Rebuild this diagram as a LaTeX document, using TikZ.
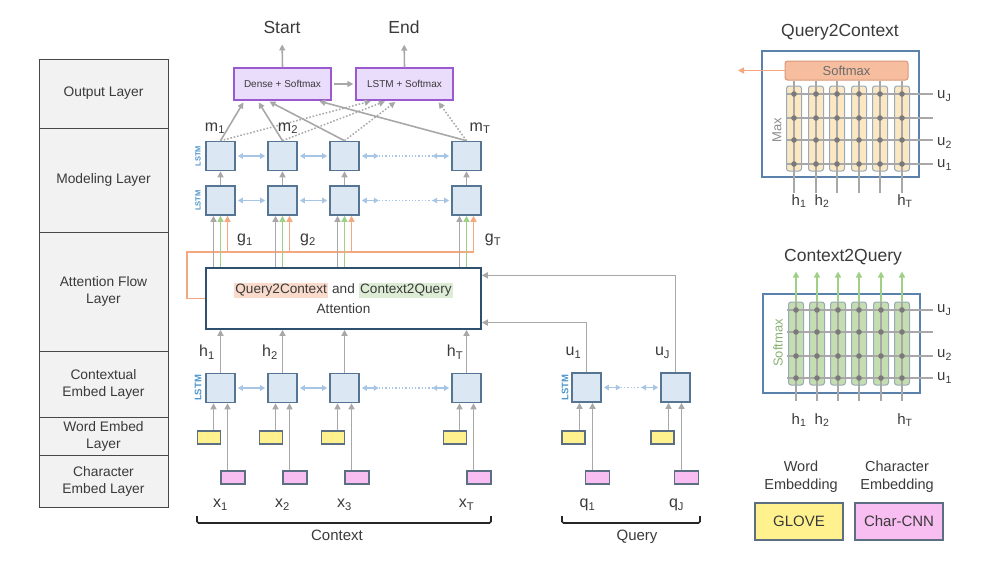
\documentclass[tikz,border=0pt]{standalone}
\usepackage{fontspec}
\setmainfont{Liberation Sans}
\usetikzlibrary{arrows.meta,calc}
\definecolor{txt}{HTML}{3A3A3A}
\definecolor{lstmfill}{HTML}{DCE7F4}
\definecolor{lstmdraw}{HTML}{557593}
\definecolor{blu}{HTML}{A7C6E5}
\definecolor{gry}{HTML}{A8A8A8}
\definecolor{grn}{HTML}{A0CF86}
\definecolor{org}{HTML}{F5A77F}
\definecolor{ylw}{HTML}{FFF28E}
\definecolor{pnk}{HTML}{F8BDF1}
\definecolor{purfill}{HTML}{EADCFB}
\definecolor{purdraw}{HTML}{9B59CF}
\definecolor{layerfill}{HTML}{F2F2F2}
\definecolor{lstmtxt}{HTML}{4C94CC}
\definecolor{q2cbg}{HTML}{FADBCB}
\definecolor{c2qbg}{HTML}{DDEDD5}
\definecolor{panel}{HTML}{5A82AC}
\definecolor{attdraw}{HTML}{2F4F6E}
\definecolor{smfill}{HTML}{F6BE9F}
\definecolor{smdraw}{HTML}{D8967A}
\definecolor{colY}{HTML}{FBE8C2}
\definecolor{colG}{HTML}{C4DDB1}
\definecolor{coldraw}{HTML}{98A9B8}
\definecolor{dotc}{HTML}{7A7A7A}
\definecolor{embdraw}{HTML}{5C6F82}
\begin{document}
\begin{tikzpicture}[x=1pt,y=-1pt,
  every node/.style={text=txt, inner sep=0pt},
  font=\fontsize{13}{16.5}\selectfont,
  layerbox/.style={draw=black!72, fill=layerfill, line width=0.9pt, minimum width=129, align=center, font=\fontsize{13.8}{17}\selectfont},
  lstm/.style={draw=lstmdraw, fill=lstmfill, line width=1.6pt, minimum width=29, minimum height=29},
  wemb/.style={draw=embdraw, fill=ylw, line width=1.2pt, minimum width=23, minimum height=13},
  cemb/.style={draw=embdraw, fill=pnk, line width=1.2pt, minimum width=24, minimum height=13},
  outbox/.style={draw=purdraw, fill=purfill, line width=1.4pt, minimum width=97, minimum height=32, font=\fontsize{10}{12}\selectfont},
  lbl/.style={font=\fontsize{16}{18}\selectfont},
  ulbl/.style={font=\fontsize{15}{18}\selectfont, anchor=west},
  big/.style={font=\fontsize{17.5}{20}\selectfont},
  lstmlbl/.style={rotate=90, font=\fontsize{9.5}{10}\selectfont\bfseries, text=lstmtxt},
  lstmlbls/.style={rotate=90, font=\fontsize{7.5}{8}\selectfont\bfseries, text=lstmtxt},
  tip/.tip={Triangle[length=6pt,width=6pt]},
  garr/.style={draw=gry, line width=1.6pt, -tip},
  grnarr/.style={draw=grn, line width=1.6pt, -tip},
  oarr/.style={draw=org, line width=1.6pt, -tip},
  barr/.style={draw=blu, line width=1.5pt, {Triangle[length=5pt,width=5.5pt]}-{Triangle[length=5pt,width=5.5pt]}},
  bdot/.style={draw=blu, line width=1.3pt, dash pattern=on 1.3pt off 2pt},
  gdot/.style={draw=gry, line width=1.5pt, dash pattern=on 1.6pt off 1.8pt, -tip},
  gline/.style={draw=gry, line width=1.5pt},
  colbox/.style={draw=coldraw, line width=1pt, rounded corners=2.5pt, minimum width=15},
  bracket/.style={draw=black!85, line width=1.6pt, rounded corners=1.5pt}
]
\useasboundingbox (0,0) rectangle (990,565);

% ---------- layer column ----------
\node[layerbox, minimum height=69] (L1) at (103.5,93.5) {Output Layer};
\node[layerbox, minimum height=104] (L2) at (103.5,180) {Modeling Layer};
\node[layerbox, minimum height=119] (L3) at (103.5,291.5) {Attention Flow\\Layer};
\node[layerbox, minimum height=66] (L4) at (103.5,384) {Contextual\\Embed Layer};
\node[layerbox, minimum height=38] (L5) at (103.5,436) {Word Embed\\Layer};
\node[layerbox, minimum height=52] (L6) at (103.5,481) {Character\\Embed Layer};

% ---------- context column nodes ----------
\foreach \i/\cx/\s in {1/220.5/1,2/282.5/2,3/344.5/3,4/466.5/T} {
  \node[lstm] (mA\i) at (\cx,156) {};
  \node[lstm] (mB\i) at (\cx,200.5) {};
  \node[lstm] (e\i) at (\cx,388) {};
  \node[wemb] (w\i) at (\cx-11.5,437.5) {};
  \node[cemb] (ch\i) at (\cx+12.5,477.5) {};
  \node[lbl] (x\i) at (\cx,505) {x\textsubscript{\s}};
  \draw[garr] (mB\i.north) -- (mA\i.south);
  \path (e\i.south) ++(-7,0) coordinate (ea\i);
  \path (e\i.south) ++(7,0) coordinate (eb\i);
  \draw[garr] (w\i.north -| ea\i) -- (ea\i);
  \draw[garr] (ch\i.north -| eb\i) -- (eb\i);
}
\node[lstmlbls] (lb1) at (198,156) {LSTM};
\node[lstmlbls] (lb2) at (198,200.5) {LSTM};
\node[lstmlbl] (lb3) at (198,388) {LSTM};

% horizontal bidirectional arrows
\foreach \r in {mA,mB,e} {
  \draw[barr, shorten <=2pt, shorten >=2pt] (\r1.east) -- (\r2.west);
  \draw[barr, shorten <=2pt, shorten >=2pt] (\r2.east) -- (\r3.west);
  \draw[barr, shorten <=2pt] (\r3.east) -- ++(19,0) coordinate (\r d1);
  \draw[barr, shorten >=2pt] (\r4.west) ++(-19,0) coordinate (\r d2) -- (\r4.west);
  \draw[bdot] (\r d1) -- (\r d2);
}

% ---------- attention ----------
\node[draw=attdraw, fill=white, line width=1.6pt, minimum width=275, minimum height=61, align=center,
      font=\fontsize{13.6}{20}\selectfont] (att) at (343.5,298.5)
  {{\setlength{\fboxsep}{1.5pt}\colorbox{q2cbg}{Query2Context}} and {\setlength{\fboxsep}{1.5pt}\colorbox{c2qbg}{Context2Query}}\\Attention};

\coordinate (ol) at (187,252);
\coordinate (oe) at (474,252);
\draw[org, line width=1.6pt] (att.west) -| (ol) -- (oe);

\foreach \i in {1,...,4} {
  \path (mB\i.south) ++(-7,0) coordinate (ga\i);
  \path (mB\i.south) ++(7,0) coordinate (oa\i);
  \draw[garr] (att.north -| ga\i) -- (ga\i);
  \draw[grnarr] (att.north -| mB\i.south) -- (mB\i.south);
  \draw[oarr] (ol -| oa\i) -- (oa\i);
  \draw[garr] (e\i.north) -- (att.south -| e\i.north);
}

\node[lbl] (g1) at (245,240) {g\textsubscript{1}};
\node[lbl] (g2) at (308,240) {g\textsubscript{2}};
\node[lbl] (gT) at (493,240) {g\textsubscript{T}};
\node[lbl] (h1) at (207,352) {h\textsubscript{1}};
\node[lbl] (h2) at (270,352) {h\textsubscript{2}};
\node[lbl] (hT) at (455,352) {h\textsubscript{T}};

% ---------- output layer ----------
\node[outbox] (dense) at (282.5,84) {Dense + Softmax};
\node[outbox] (lsm) at (404.5,84) {LSTM + Softmax};
\draw[garr, shorten <=2pt, shorten >=2pt] (dense) -- (lsm);
\node[big] (start) at (282,27) {Start};
\node[big] (end) at (404,27) {End};
\draw[garr, shorten >=11pt] (dense.north) -- (start.south);
\draw[garr, shorten >=11pt] (lsm.north) -- (end.south);

\foreach \i/\a/\b in {1/0.113/0.175,2/0.247/0.32,3/0.35/0.423,4/0.856/0.835} {
  \draw[garr, shorten >=2pt] (mA\i.north) -- ($(dense.south west)!\a!(dense.south east)$);
  \draw[gdot, shorten >=2pt] (mA\i.north) -- ($(lsm.south west)!\b!(lsm.south east)$);
}
\node[lbl] (m1) at (215,128) {m\textsubscript{1}};
\node[lbl] (m2) at (288,128) {m\textsubscript{2}};
\node[lbl] (mT) at (480,128) {m\textsubscript{T}};

% ---------- query column ----------
\foreach \i/\cx/\s in {1/586.5/1,2/675.5/J} {
  \node[lstm] (q\i) at (\cx,387.5) {};
  \node[wemb] (wq\i) at (\cx-13,437.5) {};
  \node[cemb] (cq\i) at (\cx+11,477.5) {};
  \node[lbl] (ql\i) at (\cx+1,505) {q\textsubscript{\s}};
  \node[lbl] (ul\i) at (\cx-13,353) {u\textsubscript{\s}};
  \path (q\i.south) ++(-7,0) coordinate (qa\i);
  \path (q\i.south) ++(6,0) coordinate (qb\i);
  \draw[garr] (wq\i.north -| qa\i) -- (qa\i);
  \draw[garr] (cq\i.north -| qb\i) -- (qb\i);
}
\node[lstmlbl] (lb4) at (565,387.5) {LSTM};
\draw[barr, shorten <=2pt] (q1.east) -- ++(19,0) coordinate (qd1);
\draw[barr, shorten >=2pt] (q2.west) ++(-19,0) coordinate (qd2) -- (q2.west);
\draw[bdot] (qd1) -- (qd2);

\draw[garr] (q1.north) |- ($(att.north east)!0.885!(att.south east)$);
\draw[garr] (q2.north) |- ($(att.north east)!0.13!(att.south east)$);

% ---------- brackets ----------
\draw[bracket] (197,516) -- (197,523) -- (491,523) -- (491,516);
\node[font=\fontsize{15}{18}\selectfont] (ctx) at (337,535) {Context};
\draw[bracket] (562,516) -- (562,523) -- (700,523) -- (700,516);
\node[font=\fontsize{15}{18}\selectfont] (qry) at (637,537) {Query};

% ---------- Query2Context panel ----------
\node[big] (t1) at (840,32) {Query2Context};
\node[draw=panel, line width=1.6pt, minimum width=157, minimum height=126] (p1) at (840.5,114) {};
\node[draw=smdraw, fill=smfill, line width=1pt, rounded corners=2.5pt, minimum width=123, minimum height=19,
      font=\fontsize{13}{15}\selectfont, text=txt!75] (sm) at (846.5,70.5) {Softmax};
\coordinate (smo) at (738,70.5);
\draw[oarr] (sm.west) -- (smo);
\foreach \j/\x in {1/794,2/816,3/837,4/859,5/880,6/902}
  \node[colbox, fill=colY, minimum height=85] (qc\j) at (\x,128.5) {};
\foreach \y in {94,118,140,164}
  \draw[gline] (787,\y) -- (933,\y);
\foreach \j in {1,...,6} {
  \draw[gline] (sm.south -| qc\j.center) -- (qc\j.south) -- ++(0,21);
  \foreach \y in {94,118,140,164}
    \fill[dotc] (qc\j.center |- 0,\y) circle (2.8);
}
\node[rotate=90, text=black!45] (mx) at (777,130) {Max};
\node[ulbl] (qu1) at (937,96) {u\textsubscript{J}};
\node[ulbl] (qu2) at (937,143) {u\textsubscript{2}};
\node[ulbl] (qu3) at (937,165) {u\textsubscript{1}};
\node[ulbl, anchor=center] (qh1) at (799,201) {h\textsubscript{1}};
\node[ulbl, anchor=center] (qh2) at (822,201) {h\textsubscript{2}};
\node[ulbl, anchor=center] (qh3) at (905,201) {h\textsubscript{T}};

% ---------- Context2Query panel ----------
\node[big] (t2) at (843,257) {Context2Query};
\node[draw=panel, line width=1.6pt, minimum width=157, minimum height=99] (p2) at (841.5,343.5) {};
\foreach \j/\x in {1/796,2/817,3/838,4/859,5/881,6/902}
  \node[colbox, fill=colG, minimum height=83] (cc\j) at (\x,343.5) {};
\foreach \y in {310,332,356,378}
  \draw[gline] (787,\y) -- (933,\y);
\foreach \j in {1,...,6} {
  \draw[gline] (cc\j.south) ++(0,15) -- (cc\j.north);
  \draw[grnarr] (cc\j.north) -- ++(0,-30);
  \foreach \y in {310,332,356,378}
    \fill[dotc] (cc\j.center |- 0,\y) circle (2.8);
}
\node[rotate=90, text=grn!85!black] (smx) at (778,343) {Softmax};
\node[ulbl] (cu1) at (937,310) {u\textsubscript{J}};
\node[ulbl] (cu2) at (937,355) {u\textsubscript{2}};
\node[ulbl] (cu3) at (937,378) {u\textsubscript{1}};
\node[ulbl, anchor=center] (ch1x) at (799,420) {h\textsubscript{1}};
\node[ulbl, anchor=center] (ch2x) at (822,420) {h\textsubscript{2}};
\node[ulbl, anchor=center] (ch3x) at (905,420) {h\textsubscript{T}};

% ---------- legend ----------
\node[align=center, font=\fontsize{14.5}{18}\selectfont] (lw) at (801,477) {Word\\Embedding};
\node[align=center, font=\fontsize{14.5}{18}\selectfont] (lc) at (897,477) {Character\\Embedding};
\node[draw=embdraw, fill=ylw, line width=1.3pt, minimum width=88, minimum height=37, font=\fontsize{15}{18}\selectfont] (glove) at (799,521.5) {GLOVE};
\node[draw=embdraw, fill=pnk, line width=1.3pt, minimum width=88, minimum height=37, font=\fontsize{15}{18}\selectfont] (ccnn) at (899,521.5) {Char-CNN};
\end{tikzpicture}
\end{document}
